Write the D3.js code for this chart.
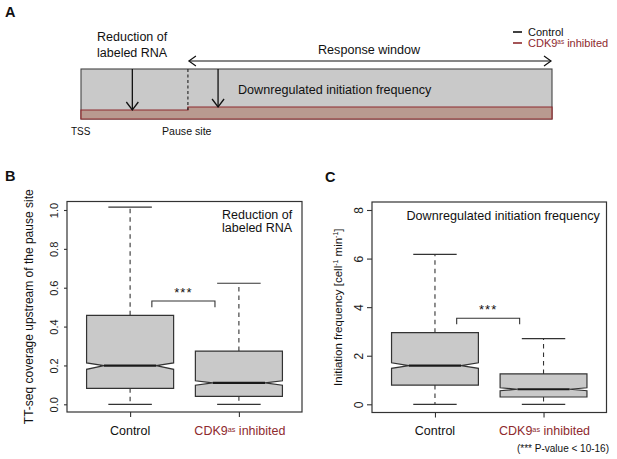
<!DOCTYPE html>
<html><head><meta charset="utf-8">
<script src="https://cdn.jsdelivr.net/npm/d3@7"></script>
<style>
body{margin:0;background:#fff}
svg text{font-family:"Liberation Sans",Arial,Helvetica,sans-serif}
</style></head>
<body><svg id="c" width="617" height="459"></svg>
<script>
// ---------- data ----------
const groups = ["Control", "CDK9as inhibited"];
// Panel B: TT-seq coverage upstream of the pause site
const bLower = [0.0, 0.0];
const bQ1 = [0.082, 0.041];
const bNotchLo = [0.180, 0.098];
const bMedian = [0.199, 0.110];
const bNotchHi = [0.213, 0.121];
const bQ3 = [0.458, 0.274];
const bUpper = [1.015, 0.623];
const bTicks = [0, 0.2, 0.4, 0.6, 0.8, 1.0];
// Panel C: initiation frequency
const cLower = [0.0, 0.0];
const cQ1 = [0.79, 0.30];
const cNotchLo = [1.48, 0.56];
const cMedian = [1.59, 0.62];
const cNotchHi = [1.71, 0.68];
const cQ3 = [2.95, 1.25];
const cUpper = [6.17, 2.70];
const cTicks = [0, 2, 4, 6, 8];
// Panel A schematic (relative gene position / relative signal level)
const aSites = [0, 0.227, 1];          // TSS, pause site, end of window
const aInhibited = [0.18, 0.24];       // level before / after pause site
const aArrowPos = [0.109, 0.291];

const RED = "#8e2a2e", DARK = "#333", FILL = "#c9c9c9", BROWN = "#b99a90";
const svg = d3.select("#c");
svg.append("rect").attr("width",617).attr("height",459).attr("fill","#fff");

function txt(x, y, s, size, opts = {}) {
  const t = svg.append("text").attr("x", x).attr("y", y).attr("font-size", size)
    .attr("fill", opts.fill || "#111").attr("text-anchor", opts.anchor || "start")
    .attr("font-weight", opts.bold ? "bold" : null);
  if (s !== null) t.text(s);
  return t;
}
function cdkLabel(t) {
  t.append("tspan").text("CDK9");
  t.append("tspan").attr("font-size", "0.58em").attr("dy", "-0.45em").text("as");
  t.append("tspan").attr("dy", "0.26em").text(" inhibited");
}

// ---------- Panel A ----------
txt(5, 17, "A", 14.5, {bold: true});
const xA = d3.scaleLinear().domain([0, 1]).range([81, 552]);
const yA = d3.scaleLinear().domain([0, 1]).range([119, 69]);
svg.append("rect").attr("x", xA(0)).attr("y", yA(1)).attr("width", xA(1) - xA(0))
  .attr("height", yA(0) - yA(1)).attr("fill", FILL).attr("stroke", "#444").attr("stroke-width", 1.1);
const brownPts = [[aSites[0], aInhibited[0]], [aSites[1], aInhibited[0]], [aSites[1], aInhibited[1]],
  [aSites[2], aInhibited[1]], [aSites[2], 0], [aSites[0], 0]];
svg.append("path").attr("d", d3.line().x(d => xA(d[0])).y(d => yA(d[1]))(brownPts) + "Z")
  .attr("fill", BROWN).attr("stroke", RED).attr("stroke-width", 1.2);
svg.append("line").attr("x1", xA(aSites[1])).attr("x2", xA(aSites[1])).attr("y1", yA(1)).attr("y2", yA(aInhibited[0]))
  .attr("stroke", "#222").attr("stroke-width", 1.1).attr("stroke-dasharray", "3,2.5");
aArrowPos.forEach((p, i) => {
  const x = xA(p), y1 = yA(1), y2 = yA(aInhibited[i]);
  svg.append("line").attr("x1", x).attr("x2", x).attr("y1", y1).attr("y2", y2).attr("stroke", "#111").attr("stroke-width", 1.3);
  svg.append("path").attr("d", `M${x-6},${y2-8}L${x},${y2}L${x+6},${y2-8}`).attr("fill", "none").attr("stroke", "#111").attr("stroke-width", 1.3);
});
{
  const y = 61, x1 = xA(aSites[1]) + 1, x2 = xA(1) - 1;
  svg.append("line").attr("x1", x1).attr("x2", x2).attr("y1", y).attr("y2", y).attr("stroke", "#111").attr("stroke-width", 1.2);
  svg.append("path").attr("d", `M${x1+7},${y-5}L${x1},${y}L${x1+7},${y+5}`).attr("fill", "none").attr("stroke", "#111").attr("stroke-width", 1.2);
  svg.append("path").attr("d", `M${x2-7},${y-5}L${x2},${y}L${x2-7},${y+5}`).attr("fill", "none").attr("stroke", "#111").attr("stroke-width", 1.2);
}
txt(97, 41, "Reduction of", 12.5);
txt(97, 57, "labeled RNA", 12.5);
txt(318, 54, "Response window", 12.6);
txt(238, 94, "Downregulated initiation frequency", 12.6);
txt(71, 135, "TSS", 10);
txt(162, 135, "Pause site", 10.6);
// legend
svg.append("line").attr("x1", 513).attr("x2", 522).attr("y1", 32).attr("y2", 32).attr("stroke", "#111").attr("stroke-width", 1.6);
svg.append("line").attr("x1", 513).attr("x2", 522).attr("y1", 43).attr("y2", 43).attr("stroke", RED).attr("stroke-width", 1.6);
txt(528, 36, "Control", 11);
cdkLabel(txt(528, 47, null, 11, {fill: RED}));

// ---------- box panels ----------
function boxPanel(o) {
  const x = d3.scaleLinear().domain([0.42, 2.58]).range([o.left, o.right]);
  const y = d3.scaleLinear().domain(o.yDomain).range(o.yRange);
  const g = svg.append("g");
  const hw = x(1.4) - x(1), cw = x(1.2) - x(1), ind = x(1.16) - x(1);
  o.q1.forEach((_, i) => {
    const cx = x(i + 1);
    // whiskers
    g.append("line").attr("x1", cx).attr("x2", cx).attr("y1", y(o.q3[i])).attr("y2", y(o.upper[i]))
      .attr("stroke", DARK).attr("stroke-width", 1.1).attr("stroke-dasharray", "4.5,4");
    g.append("line").attr("x1", cx).attr("x2", cx).attr("y1", y(o.q1[i])).attr("y2", y(o.lower[i]))
      .attr("stroke", DARK).attr("stroke-width", 1.1).attr("stroke-dasharray", "4.5,4");
    [o.upper[i], o.lower[i]].forEach(v => g.append("line").attr("x1", cx - cw).attr("x2", cx + cw)
      .attr("y1", y(v)).attr("y2", y(v)).attr("stroke", DARK).attr("stroke-width", 1.2));
    const L = cx - hw, R = cx + hw;
    const pts = [[L, y(o.q3[i])], [R, y(o.q3[i])], [R, y(o.nHi[i])], [R - ind, y(o.med[i])], [R, y(o.nLo[i])],
      [R, y(o.q1[i])], [L, y(o.q1[i])], [L, y(o.nLo[i])], [L + ind, y(o.med[i])], [L, y(o.nHi[i])]];
    g.append("path").attr("d", d3.line()(pts) + "Z").attr("fill", FILL).attr("stroke", DARK).attr("stroke-width", 1.2);
    g.append("line").attr("x1", L + ind).attr("x2", R - ind).attr("y1", y(o.med[i])).attr("y2", y(o.med[i]))
      .attr("stroke", "#1a1a1a").attr("stroke-width", 2.2);
  });
  // frame
  g.append("rect").attr("x", o.left).attr("y", o.top).attr("width", o.right - o.left).attr("height", o.bottom - o.top)
    .attr("fill", "none").attr("stroke", DARK).attr("stroke-width", 1.2);
  // y axis
  const ay = g.append("g").attr("transform", `translate(${o.left},0)`)
    .call(d3.axisLeft(y).tickValues(o.ticks).tickSize(o.tickLen).tickSizeOuter(0).tickFormat(o.fmt));
  ay.select(".domain").remove();
  ay.selectAll(".tick line").attr("stroke", DARK).attr("stroke-width", 1.1);
  ay.selectAll(".tick text").attr("x", 0).attr("dy", null).attr("y", 0).attr("text-anchor", "middle")
    .attr("transform", `translate(${-o.labOff},0) rotate(-90)`).attr("font-size", o.tickFont)
    .attr("font-family", '"Liberation Sans",Arial,sans-serif').attr("fill", "#222");
  // x axis
  const axx = g.append("g").attr("transform", `translate(0,${o.bottom})`)
    .call(d3.axisBottom(x).tickValues([1, 2]).tickSize(5).tickSizeOuter(0).tickFormat(""));
  axx.select(".domain").remove();
  axx.selectAll(".tick line").attr("stroke", DARK).attr("stroke-width", 1.1);
  txt(x(1), 435, groups[0], 12.5, {anchor: "middle"});
  cdkLabel(txt(x(2) + 1, 435, null, 12.5, {anchor: "middle", fill: RED}));
  // significance bracket
  const bx1 = x(1.2), bx2 = x(1.78), by = y(o.brTop), byl = y(o.brLeg);
  g.append("path").attr("d", `M${bx1},${byl}L${bx1},${by}L${bx2},${by}L${bx2},${byl}`)
    .attr("fill", "none").attr("stroke", DARK).attr("stroke-width", 1.1);
  txt((bx1 + bx2) / 2, by - 4, "***", 13, {anchor: "middle"}).attr("letter-spacing", 1);
  // y title
  const yt = svg.append("text").attr("transform", `translate(${o.titleX},${(o.top + o.bottom) / 2}) rotate(-90)`)
    .attr("text-anchor", "middle").attr("font-size", o.titleFont).attr("fill", "#111");
  o.title(yt);
  return {x, y};
}

// Panel B
txt(5, 181, "B", 14.5, {bold: true});
boxPanel({
  left: 67, right: 302, top: 201.5, bottom: 412,
  yDomain: [0, 1], yRange: [404.3, 210],
  q1: bQ1, q3: bQ3, med: bMedian, nLo: bNotchLo, nHi: bNotchHi, lower: bLower, upper: bUpper,
  ticks: bTicks, fmt: d3.format(".1f"), tickLen: 3, labOff: 9, tickFont: 11,
  brTop: 0.532, brLeg: 0.50,
  titleX: 33, titleFont: 12,
  title: t => t.text("TT-seq coverage upstream of the pause site")
});
txt(222, 219, "Reduction of", 12.5);
txt(222, 232, "labeled RNA", 12.5);

// Panel C
txt(325, 182, "C", 14.5, {bold: true});
boxPanel({
  left: 372, right: 606.5, top: 202, bottom: 412.5,
  yDomain: [0, 8], yRange: [404.3, 210],
  q1: cQ1, q3: cQ3, med: cMedian, nLo: cNotchLo, nHi: cNotchHi, lower: cLower, upper: cUpper,
  ticks: cTicks, fmt: d3.format("d"), tickLen: 5, labOff: 9.5, tickFont: 12,
  brTop: 3.54, brLeg: 3.30,
  titleX: 341.5, titleFont: 11.5,
  title: t => {
    t.append("tspan").text("Initiation frequency [cell");
    t.append("tspan").attr("font-size", "0.6em").attr("dy", "-0.5em").text("-1");
    t.append("tspan").attr("dy", "0.3em").text(" min");
    t.append("tspan").attr("font-size", "0.6em").attr("dy", "-0.5em").text("-1");
    t.append("tspan").attr("dy", "0.3em").text("]");
  }
});
txt(406.5, 220, "Downregulated initiation frequency", 12.6);
txt(609, 452, "(*** P-value < 10-16)", 10, {anchor: "end"});
</script>
</body></html>
